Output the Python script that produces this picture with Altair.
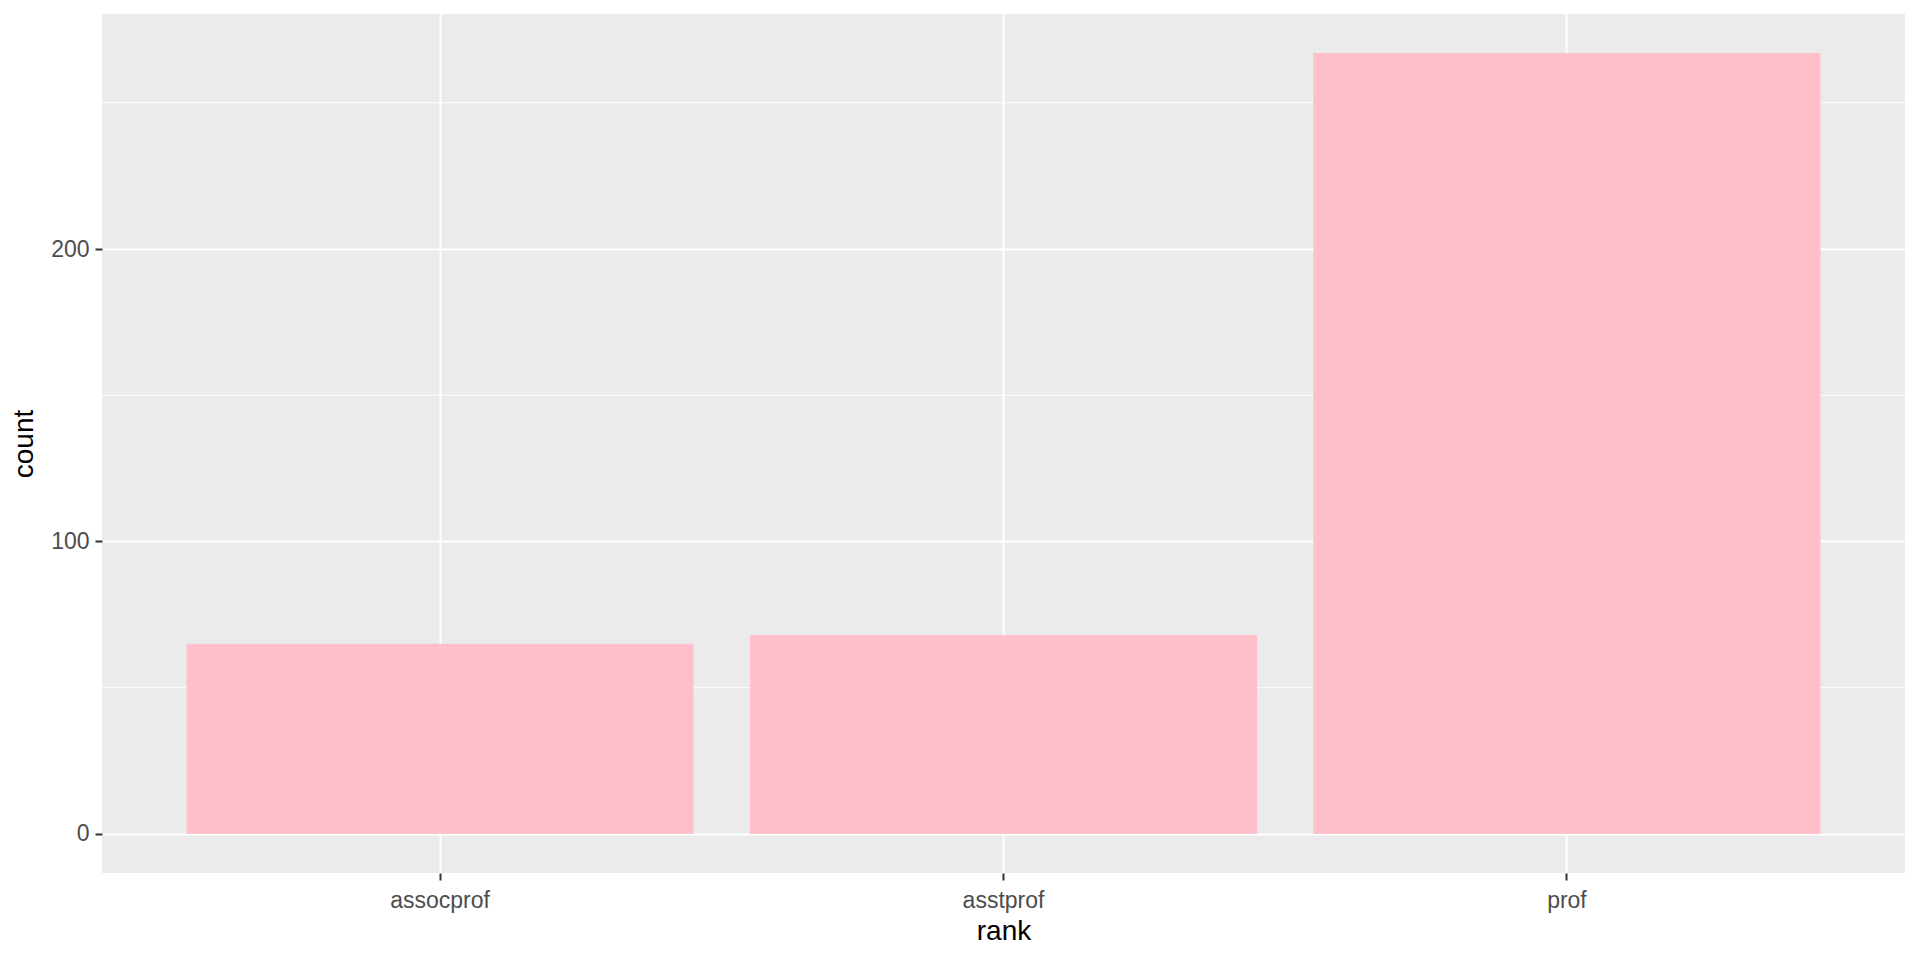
import altair as alt
import pandas as pd

ranks = ["assocprof", "asstprof", "prof"]
counts = [65, 68, 267]
major_breaks = [0, 100, 200]
minor_breaks = [50, 150, 250]

df = pd.DataFrame({"rank": ranks, "count": counts})
minor_df = pd.DataFrame({"count": minor_breaks})

ymax = max(counts)
ydomain = [-0.05 * ymax, 1.05 * ymax]
yscale = alt.Scale(domain=ydomain, nice=False, zero=False)
FONT = "Liberation Sans"

yaxis = alt.Axis(
    title="count",
    values=major_breaks,
    domain=False,
    grid=True,
    gridColor="white",
    gridWidth=2,
    tickColor="#333333",
    tickWidth=2,
    tickSize=7,
    labelColor="#4D4D4D",
    labelFontSize=23,
    labelFont=FONT,
    labelPadding=6,
    titleFont=FONT,
    titleFontSize=28,
    titleFontWeight="normal",
    titleColor="black",
    titlePadding=12,
)

minor = alt.Chart(minor_df).mark_rule(color="white", strokeWidth=1).encode(
    y=alt.Y("count:Q", scale=yscale, axis=yaxis)
)

bars = alt.Chart(df).mark_bar(color="#FFC0CB").encode(
    x=alt.X(
        "rank:N",
        sort=ranks,
        scale=alt.Scale(paddingInner=0.1, paddingOuter=0.15),
        axis=alt.Axis(
            title="rank",
            labelAngle=0,
            bandPosition=0.5,
            domain=False,
            grid=True,
            gridColor="white",
            gridWidth=2,
            tickColor="#333333",
            tickWidth=2,
            tickSize=7,
            labelColor="#4D4D4D",
            labelFontSize=23,
            labelFont=FONT,
            labelPadding=9,
            titleFont=FONT,
            titleFontSize=28,
            titleFontWeight="normal",
            titleColor="black",
            titlePadding=5,
        ),
    ),
    y=alt.Y("count:Q", scale=yscale, axis=yaxis),
    y2=alt.datum(0),
)

chart = (
    alt.layer(minor, bars)
    .properties(
        width=1803,
        height=859,
        autosize=alt.AutoSizeParams(type="none"),
        padding={"left": 94, "top": 6, "right": 7, "bottom": 80},
        background="white",
    )
    .configure_view(fill="#EBEBEB", stroke=None)
)

chart.save("out.html", embed_options={"renderer": "svg", "actions": False})
